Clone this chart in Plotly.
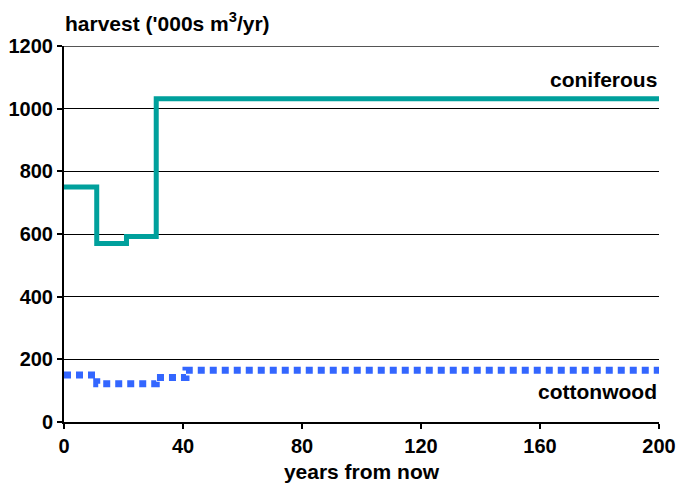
import plotly.graph_objects as go

years_con = [0, 11, 21, 31, 200]
coniferous = [750, 570, 592, 1032, 1032]
years_cot = [0, 11, 21, 31, 41, 200]
cottonwood = [150, 122, 122, 142, 165, 165]
x_ticks = [0, 40, 80, 120, 160, 200]
y_ticks = [0, 200, 400, 600, 800, 1000, 1200]

FONT = "Liberation Sans, Arial, sans-serif"
TF = dict(family=FONT, size=20, color="black", weight="bold")
LF = dict(family=FONT, size=21, color="black")

fig = go.Figure()
fig.add_trace(go.Scatter(x=years_con, y=coniferous, mode="lines", line_shape="hv",
                         line=dict(color="#00A09C", width=5), showlegend=False))
fig.add_trace(go.Scatter(x=years_cot, y=cottonwood, mode="lines", line_shape="hv",
                         line=dict(color="#3366FF", width=7, dash="7px,5px"), showlegend=False))

fig.update_layout(
    width=676, height=492,
    margin=dict(l=64, r=17, t=46, b=70),
    plot_bgcolor="white", paper_bgcolor="white",
    font=dict(family=FONT, size=20, color="black"),
    xaxis=dict(range=[0, 200], tickvals=x_ticks, showgrid=False, zeroline=False,
               automargin=False,
               showline=True, linecolor="black", linewidth=2, ticks="outside",
               ticklen=5, tickcolor="black", tickwidth=1.5, tickfont=TF,
               title=dict(text="<b>years from now</b>", font=LF, standoff=8)),
    yaxis=dict(range=[0, 1200], tickvals=y_ticks, showgrid=True, gridcolor="black",
               automargin=False,
               gridwidth=1, zeroline=False, showline=True, linecolor="black",
               linewidth=2, ticks="outside", ticklen=5, tickcolor="black", tickwidth=1.5,
               tickfont=TF),
    shapes=[dict(type="line", xref="paper", yref="y", x0=0, x1=1, y0=1200, y1=1200,
                 line=dict(color="#555555", width=2))],
    annotations=[
        dict(text="<b>harvest ('000s m<sup>3</sup>/yr)</b>", xref="paper", yref="paper",
             x=-0.002, y=1.0, yshift=24, xanchor="left", yanchor="middle", showarrow=False,
             font=LF),
        dict(text="<b>coniferous</b>", xref="paper", yref="y", x=1, y=1092,
             xanchor="right", yanchor="middle", showarrow=False, font=LF),
        dict(text="<b>cottonwood</b>", xref="paper", yref="y", x=1, y=97,
             xanchor="right", yanchor="middle", showarrow=False, font=LF),
    ],
)
fig.write_html("out.html", config={"displayModeBar": False},
               post_script="document.body.style.margin='0';document.documentElement.style.overflow='hidden';")
